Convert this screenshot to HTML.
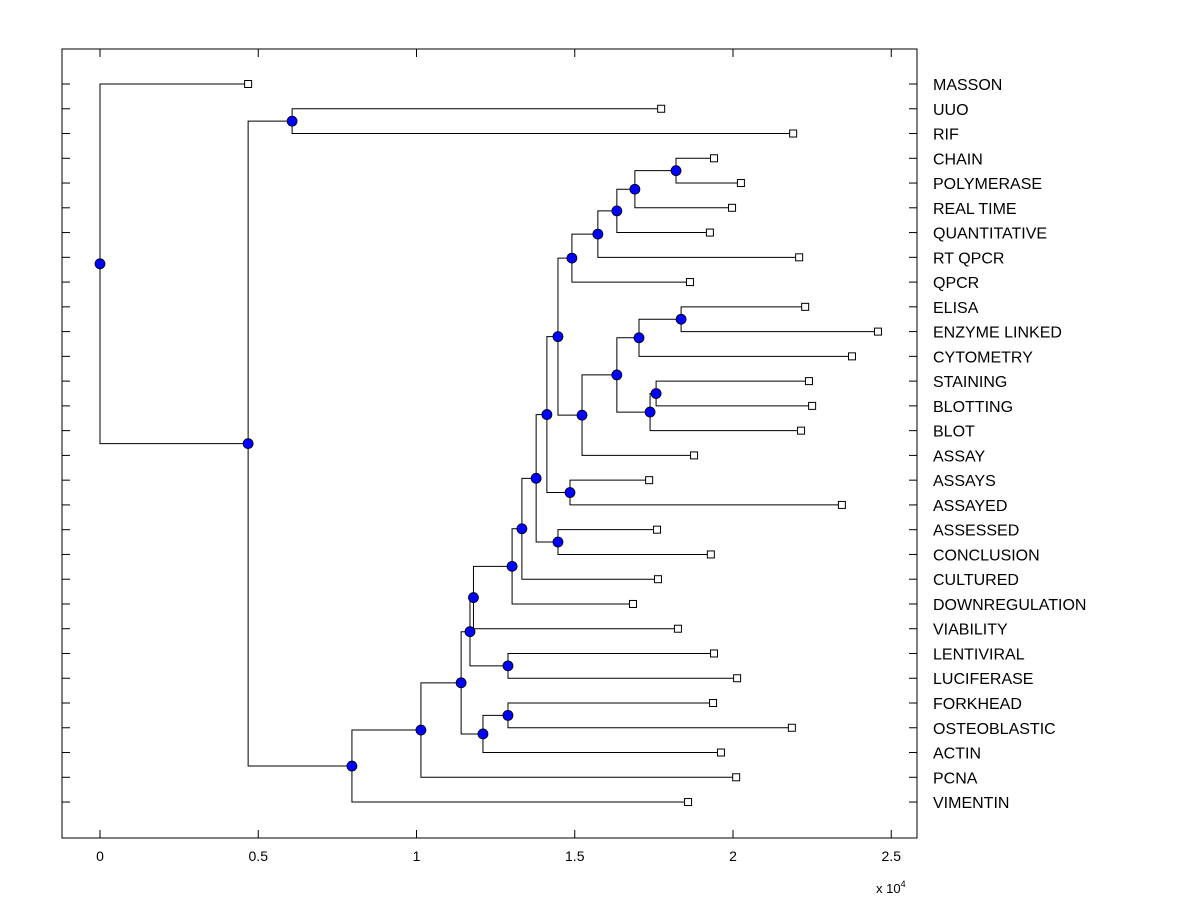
<!DOCTYPE html>
<html><head><meta charset="utf-8"><style>
body{margin:0;background:#fff;}
svg{display:block;font-family:"Liberation Sans",Arial,sans-serif;}
</style></head><body>
<svg id="chart" width="1200" height="900" xmlns="http://www.w3.org/2000/svg">
<rect x="0" y="0" width="1200" height="900" fill="#fff"/>
<g id="axes"></g>
<g id="links"></g>
<g id="marks"></g>
</svg>
<script>
const leafNames = ["MASSON","UUO","RIF","CHAIN","POLYMERASE","REAL TIME","QUANTITATIVE","RT QPCR","QPCR","ELISA","ENZYME LINKED","CYTOMETRY","STAINING","BLOTTING","BLOT","ASSAY","ASSAYS","ASSAYED","ASSESSED","CONCLUSION","CULTURED","DOWNREGULATION","VIABILITY","LENTIVIRAL","LUCIFERASE","FORKHEAD","OSTEOBLASTIC","ACTIN","PCNA","VIMENTIN"];
const leafHeights = [4680,17730,21900,19400,20250,19970,19270,22090,18640,22280,24580,23760,22400,22500,22150,18770,17350,23440,17600,19300,17630,16840,18260,19400,20130,19370,21860,19620,20100,18580];
const mergeA = [3,30,31,32,33,9,35,12,37,36,39,34,16,41,18,43,45,46,47,23,48,25,51,50,53,54,1,56,0];
const mergeB = [4,5,6,7,8,10,11,13,14,38,15,40,17,42,19,44,20,21,22,24,49,26,27,52,28,29,2,55,57];
const mergeH = [18200,16900,16330,15730,14910,18360,17030,17570,17380,16330,15230,14470,14850,14120,14470,13780,13330,13020,11800,12890,11690,12890,12100,11410,10140,7960,6070,4680,0];
const xTicks = [0,5000,10000,15000,20000,25000];
const xTickLabels = ["0","0.5","1","1.5","2","2.5"];

const NS="http://www.w3.org/2000/svg";
const L=62,R=917,T=49,B=838;
const xs = v => 100 + v*0.03165;
const ys = i => 84 + i*24.76;
function mk(tag, attrs, parent){const e=document.createElementNS(NS,tag);for(const k in attrs)e.setAttribute(k,attrs[k]);parent.appendChild(e);return e;}
const axes=document.getElementById('axes'), links=document.getElementById('links'), marks=document.getElementById('marks');

let el=mk('rect',{x:L,y:T,width:R-L,height:B-T,fill:'none',stroke:'#000','stroke-width':1},axes);



xTicks.forEach((t,i)=>{
  const x=xs(t);
  let a=mk('line',{x1:x,x2:x,y1:B,y2:B-8,stroke:'#000'},axes);
  
  
  let b=mk('line',{x1:x,x2:x,y1:T,y2:T+8,stroke:'#000'},axes);
  
  
  let tx=mk('text',{x:x,y:861,'text-anchor':'middle','font-size':14},axes);
  tx.textContent=xTickLabels[i];
  
  
});
let ex=mk('text',{x:876,y:893,'font-size':13},axes);
ex.innerHTML='x 10<tspan dy="-6" font-size="9">4</tspan>';



leafNames.forEach((n,i)=>{
  const y=ys(i);
  let a=mk('line',{x1:L,x2:L+8,y1:y,y2:y,stroke:'#000'},axes);
  
  
  let b=mk('line',{x1:R,x2:R-8,y1:y,y2:y,stroke:'#000'},axes);
  
  
  let tx=mk('text',{x:933,y:y+6,'font-size':16},axes);
  tx.textContent=n;
  
  
});

// compute node positions
const nodeX=[],nodeY=[];
leafHeights.forEach((h,i)=>{nodeX.push(h);nodeY.push(ys(i));});
mergeH.forEach((h,k)=>{
  const a=mergeA[k],b=mergeB[k];
  nodeX.push(h);nodeY.push((nodeY[a]+nodeY[b])/2);
});
mergeH.forEach((h,k)=>{
  const a=mergeA[k],b=mergeB[k],x=xs(h);
  const d=`M${xs(nodeX[a])},${nodeY[a]}H${x}V${nodeY[b]}H${xs(nodeX[b])}`;
  let p=mk('path',{d:d,fill:'none',stroke:'#000','stroke-width':1},links);
  
  
});
leafHeights.forEach((h,i)=>{
  let s=mk('rect',{x:xs(h)-3.5,y:ys(i)-3.5,width:7,height:7,fill:'#fff',stroke:'#000','stroke-width':1},marks);
  
  
});
mergeH.forEach((h,k)=>{
  let c=mk('circle',{cx:xs(h),cy:nodeY[leafHeights.length+k],r:5,fill:'#0000ff',stroke:'#000','stroke-width':0.8},marks);
  
  
});
</script>
</body></html>
